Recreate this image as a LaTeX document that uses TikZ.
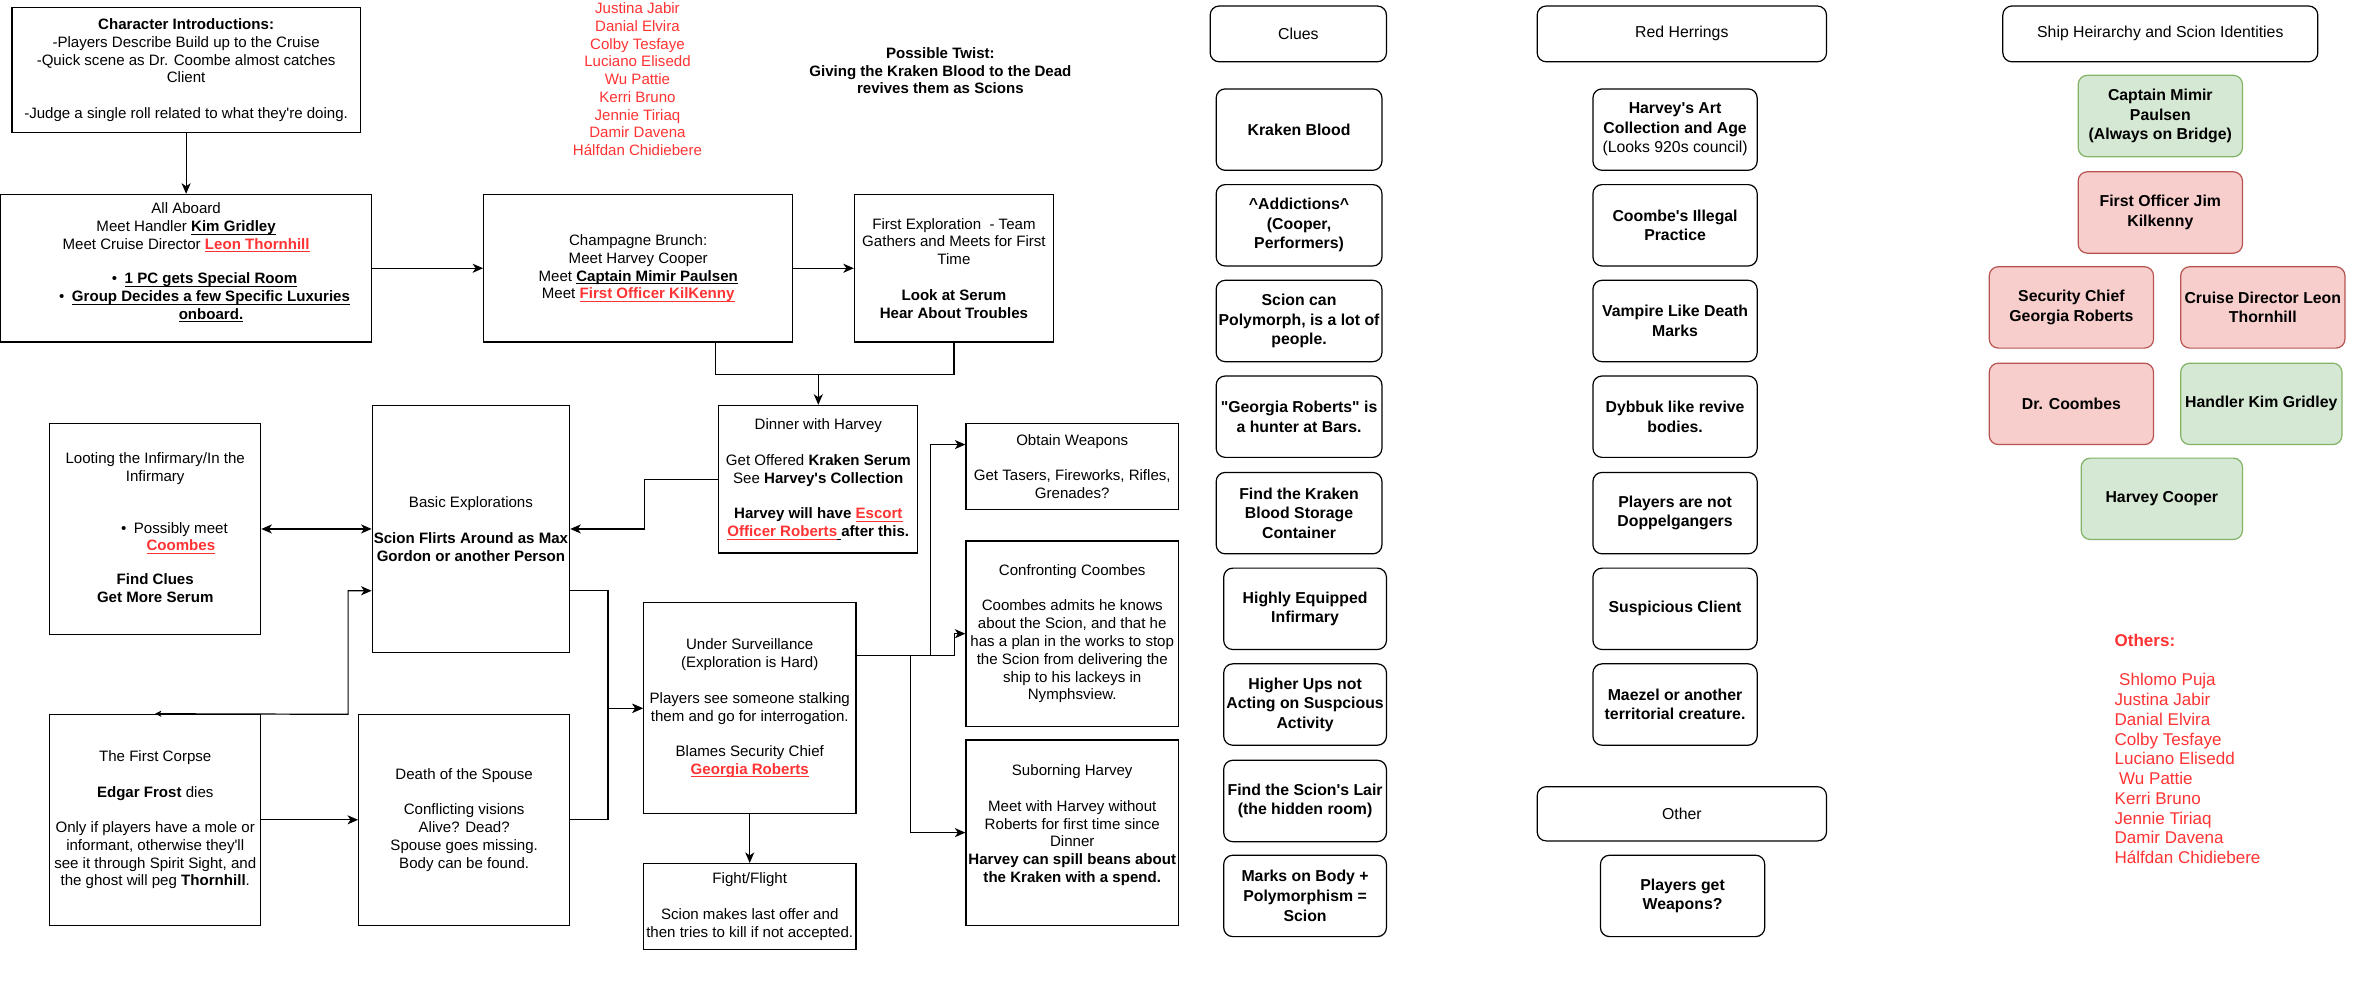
\documentclass[tikz,border=0pt]{standalone}
\usepackage{fontspec}
\setmainfont{Liberation Sans}[Ligatures=TeXOff]
\usetikzlibrary{arrows.meta}
\definecolor{myred}{RGB}{255,51,51}
\definecolor{gfill}{HTML}{D5E8D4}
\definecolor{gdraw}{HTML}{82B366}
\definecolor{rfill}{HTML}{F8CECC}
\definecolor{rdraw}{HTML}{B85450}
\newcommand{\mainsz}{\fontsize{10}{11.8}\selectfont}
\newcommand{\cluesz}{\fontsize{10.5}{13}\selectfont}
\newcommand{\othersz}{\fontsize{11.3}{13.1}\selectfont}
\newcommand{\myul}[1]{\setbox0\hbox{#1}\rlap{\rule[-1.9pt]{\wd0}{0.6pt}}\box0}
\tikzset{
 flow/.style={draw, line width=0.8pt, inner sep=0pt, align=center, font=\mainsz},
 rbox/.style={draw, rounded corners=6pt, line width=0.8pt, inner sep=0pt, align=center, font=\cluesz\bfseries, minimum width=110pt, minimum height=54pt},
 hdr/.style={draw, rounded corners=6pt, line width=0.8pt, inner sep=0pt, align=center, font=\cluesz, minimum height=37pt},
 gbox/.style={rbox, fill=gfill, draw=gdraw, minimum width=109pt},
 pbox/.style={rbox, fill=rfill, draw=rdraw, minimum width=109pt},
 conn/.style={line width=0.8pt},
 arr/.style={conn, -{Stealth[length=7pt,width=6pt,inset=2pt]}},
 arr2/.style={conn, {Stealth[length=7pt,width=6pt,inset=2pt]}-{Stealth[length=7pt,width=6pt,inset=2pt]}},
 arrs/.style={conn, {Stealth[length=4pt,width=4pt,inset=1pt]}-{Stealth[length=7pt,width=6pt,inset=2pt]}},
 txt/.style={inner sep=0pt, align=center, font=\mainsz},
}
\begin{document}
\begin{tikzpicture}[x=1pt,y=-1pt]
\useasboundingbox[fill=white] (0,0) rectangle (1568,652);

% ---------------- flow chart ----------------
\node[flow, minimum width=231pt, minimum height=83pt] (intro) at (123.5,46.5) {\textbf{Character Introductions:}\\-Players Describe Build up to the Cruise\\-Quick scene as Dr. Coombe almost catches\\Client\\[11.8pt]-Judge a single roll related to what they're doing.};

\node[flow, minimum width=246pt, minimum height=98pt] (aboard) at (123.5,178) {};
\node[txt] (aboardt) at (123.5,151) {All Aboard\\Meet Handler \myul{\textbf{Kim Gridley}}\\Meet Cruise Director \textcolor{myred}{\myul{\textbf{Leon Thornhill}}}};
\node[txt] (aboardl) at (140,197.5) {\llap{\textbullet\hspace{5pt}}\myul{\textbf{1 PC gets Special Room}}\\\llap{\textbullet\hspace{5pt}}\myul{\textbf{Group Decides a few Specific Luxuries}}\\\myul{\textbf{onboard.}}};

\node[flow, minimum width=205pt, minimum height=98pt] (brunch) at (423.5,178) {Champagne Brunch:\\Meet Harvey Cooper\\Meet \myul{\textbf{Captain Mimir Paulsen}}\\Meet \textcolor{myred}{\myul{\textbf{First Officer KilKenny}}}};

\node[flow, minimum width=132pt, minimum height=98pt] (firstexp) at (633,178) {First Exploration\ \ - Team\\Gathers and Meets for First\\Time\\[11.8pt]\textbf{Look at Serum}\\\textbf{Hear About Troubles}};

\node[flow, minimum width=132pt, minimum height=98pt] (dinner) at (543,318) {Dinner with Harvey\\[11.8pt]Get Offered \textbf{Kraken Serum}\\See \textbf{Harvey's Collection}\\[11.8pt]\textbf{Harvey will have} \textcolor{myred}{\myul{\textbf{Escort}}}\\\textcolor{myred}{\myul{\textbf{Officer Roberts}}}\myul{\ }\textbf{after this.}};

\node[flow, minimum width=131pt, minimum height=164pt] (basic) at (312.5,351) {Basic Explorations\\[11.8pt]\textbf{Scion Flirts Around as Max}\\\textbf{Gordon or another Person}};

\node[flow, minimum width=140pt, minimum height=140pt] (loot) at (103,351) {};
\node[txt] (loott1) at (103,311) {Looting the Infirmary/In the\\Infirmary};
\node[txt] (loott2) at (120,357) {\llap{\textbullet\hspace{5pt}}Possibly meet\\\textcolor{myred}{\myul{\textbf{Coombes}}}};
\node[txt, font=\mainsz\bfseries] (loott3) at (103,390.5) {Find Clues\\Get More Serum};

\node[flow, minimum width=140pt, minimum height=140pt] (corpse) at (103,544) {The First Corpse\\[11.8pt]\textbf{Edgar Frost} dies\\[11.8pt]Only if players have a mole or\\informant, otherwise they'll\\see it through Spirit Sight, and\\the ghost will peg \textbf{Thornhill}.};

\node[flow, minimum width=140pt, minimum height=140pt] (death) at (308,544) {Death of the Spouse\\[11.8pt]Conflicting visions\\Alive? Dead?\\Spouse goes missing.\\Body can be found.};

\node[flow, minimum width=141pt, minimum height=140pt] (surv) at (497.5,470) {Under Surveillance\\(Exploration is Hard)\\[11.8pt]Players see someone stalking\\them and go for interrogation.\\[11.8pt]Blames Security Chief\\\textcolor{myred}{\myul{\textbf{Georgia Roberts}}}};

\node[flow, minimum width=141pt, minimum height=57pt] (fight) at (497.5,601.5) {Fight/Flight\\[11.8pt]Scion makes last offer and\\then tries to kill if not accepted.};

\node[flow, minimum width=141pt, minimum height=57pt] (obtain) at (711.5,309.5) {Obtain Weapons\\[11.8pt]Get Tasers, Fireworks, Rifles,\\Grenades?};

\node[flow, minimum width=141pt, minimum height=123pt] (confront) at (711.5,420.5) {Confronting Coombes\\[11.8pt]Coombes admits he knows\\about the Scion, and that he\\has a plan in the works to stop\\the Scion from delivering the\\ship to his lackeys in\\Nymphsview.};

\node[flow, minimum width=141pt, minimum height=123pt] (suborn) at (711.5,552.5) {Suborning Harvey\\[11.8pt]Meet with Harvey without\\Roberts for first time since\\Dinner\\\textbf{Harvey can spill beans about}\\\textbf{the Kraken with a spend.}\\\mbox{}};

\node[txt, text=myred] (names) at (423,52.6) {Justina Jabir\\Danial Elvira\\Colby Tesfaye\\Luciano Elisedd\\Wu Pattie\\Kerri Bruno\\Jennie Tiriaq\\Damir Davena\\Hálfdan Chidiebere};

\node[txt, font=\mainsz\bfseries] (twist) at (624,47) {Possible Twist:\\Giving the Kraken Blood to the Dead\\revives them as Scions};

% connectors
\draw[arr] (intro.south) -- (aboard.north);
\draw[arr] (aboard.east) -- (brunch.west);
\draw[arr] (brunch.east) -- (firstexp.west);
\draw[conn] ([xshift=51.5pt]brunch.south) -- ++(0,21) -| (firstexp.south);
\coordinate (dj) at (543,248);
\draw[arr] (dj) -- (dinner.north);
\draw[arr] (dinner.west) -- ++(-49,0) |- (basic.east);
\draw[arr2] (loot.east) -- (basic.west);
\draw[arr] ([yshift=-41pt]basic.east) -- ++(25,0) |- (surv.west);
\draw[arr] (death.east) -- ++(25,0) |- (surv.west);
\coordinate (cj) at (231,474);
\draw[arrs] (corpse.north) -- (cj) |- ([yshift=-41pt]basic.west);
\draw[arr] (corpse.east) -- (death.west);
\draw[arr] (surv.south) -- (fight.north);
\draw[arr] ([yshift=35pt]surv.east) -- ++(49,0) |- ([yshift=14.5pt]obtain.west);
\draw[arr] ([yshift=35pt]surv.east) -- ++(65,0) |- (confront.west);
\draw[arr] ([yshift=35pt]surv.east) -- ++(36,0) |- (suborn.west);

% ---------------- Clues ----------------
\node[hdr, minimum width=117pt] (hclues) at (861.5,22.5) {Clues};
\node[rbox] (c1) at (862,86) {Kraken Blood};
\node[rbox] (c2) at (862,149.5) {\textasciicircum Addictions\textasciicircum\\(Cooper,\\Performers)};
\node[rbox] (c3) at (862,213) {Scion can\\Polymorph, is a lot of\\people.};
\node[rbox] (c4) at (862,276.5) {"Georgia Roberts" is\\a hunter at Bars.};
\node[rbox] (c5) at (862,340.5) {Find the Kraken\\Blood Storage\\Container};
\node[rbox, minimum width=108pt] (c6) at (866,404) {Highly Equipped\\Infirmary};
\node[rbox, minimum width=108pt] (c7) at (866,467.5) {Higher Ups not\\Acting on Suspcious\\Activity};
\node[rbox, minimum width=108pt] (c8) at (866,531.5) {Find the Scion's Lair\\(the hidden room)};
\node[rbox, minimum width=108pt] (c9) at (866,594.5) {Marks on Body +\\Polymorphism =\\Scion};

% ---------------- Red Herrings ----------------
\node[hdr, minimum width=192pt] (hred) at (1116,22.5) {Red Herrings};
\node[rbox, minimum width=109pt] (r1) at (1111.5,86) {Harvey's Art\\Collection and Age\\{\mdseries (Looks 920s council)}};
\node[rbox, minimum width=109pt] (r2) at (1111.5,149.5) {Coombe's Illegal\\Practice};
\node[rbox, minimum width=109pt] (r3) at (1111.5,213) {Vampire Like Death\\Marks};
\node[rbox, minimum width=109pt] (r4) at (1111.5,276.5) {Dybbuk like revive\\bodies.};
\node[rbox, minimum width=109pt] (r5) at (1111.5,340.5) {Players are not\\Doppelgangers};
\node[rbox, minimum width=109pt] (r6) at (1111.5,404) {Suspicious Client};
\node[rbox, minimum width=109pt] (r7) at (1111.5,467.5) {Maezel or another\\territorial creature.};

\node[hdr, minimum width=192pt, minimum height=36pt] (hother) at (1116,540) {Other};
\node[rbox, minimum width=109pt] (o1) at (1116.5,594.5) {Players get\\Weapons?};

% ---------------- Hierarchy ----------------
\node[hdr, minimum width=209pt] (hship) at (1433.5,22.5) {Ship Heirarchy and Scion Identities};
\node[gbox] (captain) at (1433.5,77) {Captain Mimir\\Paulsen\\(Always on Bridge)};
\node[pbox] (officer) at (1433.5,141) {First Officer Jim\\Kilkenny};
\node[pbox] (security) at (1374.5,204) {Security Chief\\Georgia Roberts};
\node[pbox] (cruise) at (1501.5,204) {Cruise Director Leon\\Thornhill};
\node[pbox] (coombes) at (1374.5,268) {Dr. Coombes};
\node[gbox, minimum width=107pt] (handler) at (1500.5,268) {Handler Kim Gridley};
\node[gbox, minimum width=107pt] (harvey) at (1434.5,331) {Harvey Cooper};

\node[txt, font=\othersz\bfseries, text=myred, anchor=west] (othersh) at (1403,425) {Others:};
\node[txt, font=\othersz, text=myred, anchor=west, align=left] (otherslist) at (1403,510) {\hspace*{3pt}Shlomo Puja\\Justina Jabir\\Danial Elvira\\Colby Tesfaye\\Luciano Elisedd\\\hspace*{3pt}Wu Pattie\\Kerri Bruno\\Jennie Tiriaq\\Damir Davena\\Hálfdan Chidiebere};
\end{tikzpicture}
\end{document}
